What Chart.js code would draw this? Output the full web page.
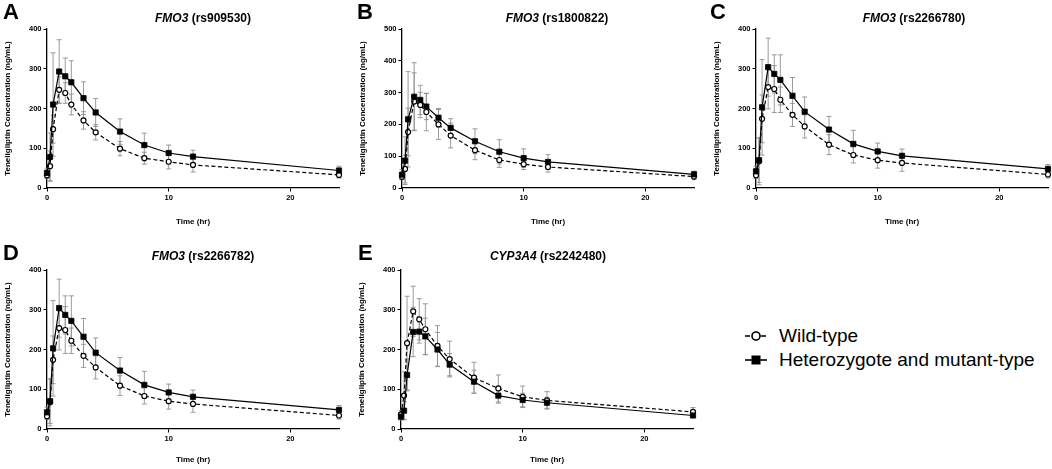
<!DOCTYPE html>
<html><head><meta charset="utf-8">
<script src="https://cdn.jsdelivr.net/npm/chart.js@4"></script>
<style>
html,body{margin:0;padding:0;background:#fff;}
body{width:1052px;height:469px;overflow:hidden;position:relative;font-family:"Liberation Sans",Arial,sans-serif;color:#000;}
canvas{position:absolute;}
.letter{position:absolute;font-weight:bold;font-size:22px;line-height:22px;}
.title{position:absolute;width:300px;text-align:center;font-weight:bold;font-size:12px;line-height:14px;white-space:nowrap;}
.legend{position:absolute;left:745px;top:324px;font-size:19px;line-height:24px;}
.legend .row{display:flex;align-items:center;height:24px;white-space:nowrap;}
.legend svg{margin-right:12px;flex:none;}
</style></head><body>
<script>
// ---------- data ----------
const timeHr = [0, 0.25, 0.5, 1, 1.5, 2, 3, 4, 6, 8, 10, 12, 24];
const xTickValues = [0, 10, 20];
const yTicks400 = [0, 100, 200, 300, 400];
const yTicks500 = [0, 100, 200, 300, 400, 500];
const seriesNames = ["Wild-type", "Heterozygote and mutant-type"];
const xTitle = "Time (hr)";
const yTitle = "Teneligliptin Concentration (ng/mL)";
const panelLetters = ["A", "B", "C", "D", "E"];
const panelGenes = ["FMO3", "FMO3", "FMO3", "FMO3", "CYP3A4"];
const panelSnps = ["(rs909530)", "(rs1800822)", "(rs2266780)", "(rs2266782)", "(rs2242480)"];

const aWildMean = [32, 55, 148, 247, 239, 210, 170, 140, 99, 75, 66, 58, 33];
const aWildSd   = [8, 38, 35, 33, 26, 26, 22, 19, 18, 15, 18, 18, 8];
const aHetMean  = [38, 78, 210, 293, 281, 266, 226, 190, 142, 108, 88, 79, 44];
const aHetSd    = [12, 60, 130, 80, 46, 54, 41, 35, 32, 30, 20, 16, 11];

const bWildMean = [35, 60, 176, 272, 261, 239, 200, 165, 119, 88, 75, 66, 36];
const bWildSd   = [8, 44, 75, 90, 40, 59, 47, 39, 30, 23, 17, 16, 10];
const bHetMean  = [42, 86, 216, 287, 277, 256, 221, 189, 147, 114, 94, 82, 43];
const bHetSd    = [16, 75, 150, 107, 46, 41, 29, 29, 39, 38, 29, 23, 10];

const cWildMean = [32, 67, 174, 254, 249, 222, 184, 155, 109, 83, 70, 63, 34];
const cWildSd   = [8, 59, 60, 55, 59, 32, 29, 29, 25, 20, 20, 21, 9];
const cHetMean  = [42, 70, 203, 304, 287, 272, 232, 192, 147, 111, 92, 81, 48];
const cHetSd    = [13, 56, 120, 73, 48, 63, 46, 37, 33, 34, 21, 17, 11];

const dWildMean = [32, 67, 174, 254, 249, 222, 184, 155, 109, 83, 70, 63, 34];
const dWildSd   = [8, 59, 60, 55, 59, 32, 29, 29, 25, 20, 20, 21, 9];
const dHetMean  = [42, 70, 203, 304, 287, 272, 232, 192, 147, 111, 92, 81, 48];
const dHetSd    = [13, 56, 120, 73, 48, 63, 46, 37, 33, 34, 21, 17, 11];

const eWildMean = [37, 84, 216, 296, 276, 251, 209, 176, 129, 102, 81, 72, 43];
const eWildSd   = [10, 60, 118, 63, 52, 64, 51, 45, 39, 34, 27, 22, 11];
const eHetMean  = [31, 46, 136, 244, 245, 233, 200, 162, 119, 84, 73, 66, 34];
const eHetSd    = [8, 23, 40, 62, 29, 46, 43, 28, 29, 19, 17, 14, 5];

// ---------- layout ----------
const FONT = '"Liberation Sans", Arial, sans-serif';
const panels = [
  {left: 0,   top: 0,   h: 230, padTop: 29, xh: 42, ymax: 400, yt: yTicks400, wild: aWildMean, wildSd: aWildSd, het: aHetMean, hetSd: aHetSd, lx: 3,   ly: 1,   tx: 203, ty: 11},
  {left: 355, top: 0,   h: 230, padTop: 29, xh: 42, ymax: 500, yt: yTicks500, wild: bWildMean, wildSd: bWildSd, het: bHetMean, hetSd: bHetSd, lx: 357, ly: 1,   tx: 557, ty: 11},
  {left: 709, top: 0,   h: 230, padTop: 29, xh: 42, ymax: 400, yt: yTicks400, wild: cWildMean, wildSd: cWildSd, het: cHetMean, hetSd: cHetSd, lx: 710, ly: 1,   tx: 914, ty: 11},
  {left: 0,   top: 230, h: 239, padTop: 40, xh: 40, ymax: 400, yt: yTicks400, wild: dWildMean, wildSd: dWildSd, het: dHetMean, hetSd: dHetSd, lx: 3,   ly: 242, tx: 203, ty: 249},
  {left: 354, top: 230, h: 239, padTop: 40, xh: 40, ymax: 400, yt: yTicks400, wild: eWildMean, wildSd: eWildSd, het: eHetMean, hetSd: eHetSd, lx: 358, ly: 242, tx: 548, ty: 249}
];
const CW = 347, YW = 47, RP = 8;

const errorBarPlugin = {
  id: 'errorBars',
  beforeDatasetsDraw(chart) {
    const {ctx, scales: {x, y}} = chart;
    ctx.save();
    ctx.strokeStyle = '#909090';
    ctx.lineWidth = 0.9;
    chart.data.datasets.forEach(ds => {
      const sd = ds.errorBars;
      if (!sd) return;
      ds.data.forEach((p, i) => {
        const px = x.getPixelForValue(p.x);
        const top = y.getPixelForValue(p.y + sd[i]);
        const bot = y.getPixelForValue(Math.max(0, p.y - sd[i]));
        ctx.beginPath();
        ctx.moveTo(px, top); ctx.lineTo(px, bot);
        ctx.moveTo(px - 2.5, top); ctx.lineTo(px + 2.5, top);
        ctx.moveTo(px - 2.5, bot); ctx.lineTo(px + 2.5, bot);
        ctx.stroke();
      });
    });
    ctx.restore();
  }
};

function pts(vals) { return timeHr.map((t, i) => ({x: t, y: vals[i]})); }

panels.forEach((p, k) => {
  const cv = document.createElement('canvas');
  cv.width = CW; cv.height = p.h;
  cv.style.left = p.left + 'px'; cv.style.top = p.top + 'px';
  cv.style.width = CW + 'px'; cv.style.height = p.h + 'px';
  document.body.appendChild(cv);

  const letter = document.createElement('div');
  letter.className = 'letter';
  letter.style.left = p.lx + 'px'; letter.style.top = p.ly + 'px';
  letter.textContent = panelLetters[k];
  document.body.appendChild(letter);

  const title = document.createElement('div');
  title.className = 'title';
  title.style.left = (p.tx - 150) + 'px'; title.style.top = p.ty + 'px';
  const gi = document.createElement('i');
  gi.textContent = panelGenes[k];
  title.appendChild(gi);
  title.appendChild(document.createTextNode(' ' + panelSnps[k]));
  document.body.appendChild(title);

  const tickFont = {family: FONT, size: 7.5, weight: 'bold'};
  const titleFont = {family: FONT, size: 8, weight: 'bold'};
  const gridCfg = {drawOnChartArea: false, drawTicks: true, tickLength: 3.5, tickColor: '#000', tickWidth: 1};

  new Chart(cv, {
    type: 'line',
    data: {
      datasets: [
        {label: seriesNames[1], data: pts(p.het), errorBars: p.hetSd,
         borderColor: '#000', borderWidth: 1.2, pointStyle: 'rect', pointRadius: 3.7,
         pointBackgroundColor: '#000', pointBorderColor: '#000', pointBorderWidth: 0.8,
         tension: 0, fill: false, clip: false},
        {label: seriesNames[0], data: pts(p.wild), errorBars: p.wildSd,
         borderColor: '#000', borderWidth: 1.2, borderDash: [4, 2.5], pointStyle: 'circle', pointRadius: 2.5,
         pointBackgroundColor: '#fff', pointBorderColor: '#000', pointBorderWidth: 1.2,
         tension: 0, fill: false, clip: false}
      ]
    },
    options: {
      responsive: false, animation: false,
      layout: {padding: {top: p.padTop, right: RP, bottom: 0, left: 0}},
      plugins: {legend: {display: false}, tooltip: {enabled: false}, title: {display: false}},
      scales: {
        x: {
          type: 'linear', min: 0, max: 24,
          afterBuildTicks: s => { s.ticks = xTickValues.map(v => ({value: v})); },
          afterFit: s => { s.height = p.xh; },
          grid: gridCfg,
          border: {color: '#000', width: 1.3},
          ticks: {color: '#000', font: tickFont, padding: 2, maxRotation: 0},
          title: {display: true, text: xTitle, color: '#000', font: titleFont, padding: {top: 0, bottom: p.xh === 42 ? 3.2 : 4.2}}
        },
        y: {
          type: 'linear', min: 0, max: p.ymax,
          afterBuildTicks: s => { s.ticks = p.yt.map(v => ({value: v})); },
          afterFit: s => { s.width = YW; },
          grid: gridCfg,
          border: {color: '#000', width: 1.3},
          ticks: {color: '#000', font: tickFont, padding: 2},
          title: {display: true, text: yTitle, color: '#000', font: titleFont, padding: {top: 3, bottom: 0}}
        }
      }
    },
    plugins: [errorBarPlugin]
  });
});

// ---------- legend ----------
const lg = document.createElement('div');
lg.className = 'legend';
lg.innerHTML =
  '<div class="row"><svg width="22" height="12" viewBox="0 0 22 12">' +
  '<line x1="0" y1="6" x2="22" y2="6" stroke="#000" stroke-width="1.6" stroke-dasharray="5,3"/>' +
  '<circle cx="11" cy="6" r="4" fill="#fff" stroke="#000" stroke-width="1.6"/></svg><span></span></div>' +
  '<div class="row"><svg width="22" height="12" viewBox="0 0 22 12">' +
  '<line x1="0" y1="6" x2="22" y2="6" stroke="#000" stroke-width="1.6"/>' +
  '<rect x="6.5" y="1.5" width="9" height="9" fill="#000"/></svg><span></span></div>';
const spans = lg.querySelectorAll('span');
spans[0].textContent = seriesNames[0];
spans[1].textContent = seriesNames[1];
document.body.appendChild(lg);
</script>
</body></html>
